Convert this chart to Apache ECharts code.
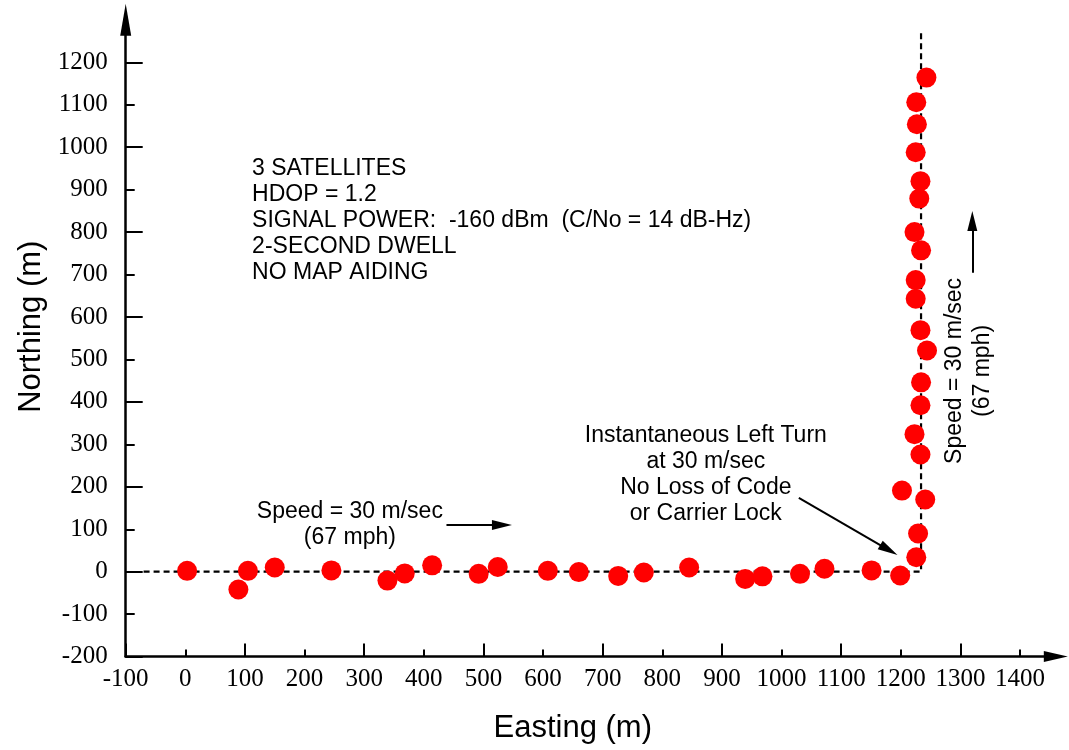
<!DOCTYPE html>
<html>
<head>
<meta charset="utf-8">
<script src="https://cdn.jsdelivr.net/npm/echarts@6/dist/echarts.min.js"></script>
<style>html,body{margin:0;padding:0;background:#fff}#c{width:1069px;height:750px}</style>
</head>
<body>
<div id="c"></div>
<script>
// ---- data ----
const eastingH  = [3, 89, 105, 150, 245, 339, 368, 414, 492, 524, 608, 660, 726, 769, 845, 939, 968, 1031, 1072, 1151, 1199];
const northingH = [2, -42, 2, 10, 3, -21, -4, 15, -5, 11, 2, -1, -10, -2, 10, -17, -11, -5, 7, 3, -9];
const eastingV  = [1226, 1229, 1202, 1241, 1233, 1223, 1233, 1234, 1244, 1233, 1225, 1225, 1234, 1223, 1231, 1233, 1225, 1227, 1226, 1243];
const northingV = [34, 90, 191, 170, 276, 324, 392, 446, 521, 569, 643, 687, 757, 800, 879, 920, 988, 1054, 1106, 1164];
const pathEasting  = [-70, 1234, 1234];
const pathNorthing = [0, 0, 1276];
const xLabelTicks = [-100, 0, 100, 200, 300, 400, 500, 600, 700, 800, 900, 1000, 1100, 1200, 1300, 1400];
const xShortTicks = [0, 200, 400, 600, 800, 1000, 1200, 1400];
const xLongTicks  = [-100, 100, 300, 500, 700, 900, 1100, 1300];
const yLabelTicks = [-200, -100, 0, 100, 200, 300, 400, 500, 600, 700, 800, 900, 1000, 1100, 1200];
const yShortTicks = [-100, 100, 300, 500, 700, 900, 1100];
const yLongTicks  = [-200, 0, 200, 400, 600, 800, 1000, 1200];
const infoLines = ['3 SATELLITES', 'HDOP = 1.2', 'SIGNAL POWER:  -160 dBm  (C/No = 14 dB-Hz)', '2-SECOND DWELL', 'NO MAP AIDING'];
const speedLines = ['Speed = 30 m/sec', '(67 mph)'];
const turnLines = ['Instantaneous Left Turn', 'at 30 m/sec', 'No Loss of Code', 'or Carrier Lock'];
// annotation anchors in data coordinates
const infoAt = [112, 981];
const speedAtH = [276, 110];
const turnAt = [873, 229];
const speedAtV = [1314, 473];
const arrowSpeedH = [[438, 110], [531, 110]];
const arrowTurn = [[1029, 174], [1180, 51]];
const arrowSpeedV = [[1320, 704], [1320, 826]];

const serif = 'Liberation Serif, Times New Roman, serif';
const sans = 'Liberation Sans, Arial, Helvetica, sans-serif';
const XMIN = -100, XMAX = 1460, YMIN = -200, YMAX = 1300;

const chart = echarts.init(document.getElementById('c'), null, {renderer: 'canvas'});

function zip(a, b) { return a.map((v, i) => [v, b[i]]); }
const plain = v => String(v);

const option = {
  animation: false,
  backgroundColor: '#fff',
  grid: {left: 125.7, right: 13.2, top: 19.85, bottom: 93.4, containLabel: false},
  xAxis: [
    {
      type: 'value', min: XMIN, max: XMAX, position: 'bottom',
      name: 'Easting (m)', nameLocation: 'middle', nameGap: 56,
      nameTextStyle: {fontFamily: sans, fontSize: 31, color: '#000', padding: [0, 36, 0, 0]},
      axisLine: {show: true, onZero: false, symbol: ['none', 'triangle'], symbolSize: [11, 24],
        lineStyle: {color: '#000', width: 2.5}},
      axisTick: {show: true, inside: true, length: 7, lineStyle: {color: '#000', width: 2}, customValues: xShortTicks},
      axisLabel: {show: true, margin: 10, fontFamily: serif, fontSize: 25, color: '#000', formatter: plain, customValues: xLabelTicks},
      splitLine: {show: false}
    },
    {
      type: 'value', min: XMIN, max: XMAX, position: 'bottom',
      axisLine: {show: false, onZero: false},
      axisTick: {show: true, inside: true, length: 13, lineStyle: {color: '#000', width: 2}, customValues: xLongTicks},
      axisLabel: {show: false},
      splitLine: {show: false}
    }
  ],
  yAxis: [
    {
      type: 'value', min: YMIN, max: YMAX, position: 'left',
      name: 'Northing (m)', nameLocation: 'middle', nameGap: 76, nameRotate: 90,
      nameTextStyle: {fontFamily: sans, fontSize: 31, color: '#000', padding: [0, 0, 0, 23]},
      axisLine: {show: true, onZero: false, symbol: ['none', 'triangle'], symbolSize: [11, 32],
        lineStyle: {color: '#000', width: 2.5}},
      axisTick: {show: true, inside: true, length: 9, lineStyle: {color: '#000', width: 2}, customValues: yShortTicks},
      axisLabel: {show: true, margin: 18, fontFamily: serif, fontSize: 25, color: '#000', formatter: plain, customValues: yLabelTicks},
      splitLine: {show: false}
    },
    {
      type: 'value', min: YMIN, max: YMAX, position: 'left',
      axisLine: {show: false, onZero: false},
      axisTick: {show: true, inside: true, length: 17, lineStyle: {color: '#000', width: 2}, customValues: yLongTicks},
      axisLabel: {show: false},
      splitLine: {show: false}
    }
  ],
  series: [
    {
      type: 'line', name: 'true path', xAxisIndex: 0, yAxisIndex: 0,
      data: zip(pathEasting, pathNorthing), showSymbol: false, symbol: 'none',
      lineStyle: {color: '#000', width: 2.2, type: [6, 4]}, z: 2, silent: true,
      markLine: {
        silent: true, animation: false,
        symbol: ['none', 'triangle'], symbolSize: [10, 20],
        label: {show: false},
        lineStyle: {color: '#000', width: 2, type: 'solid'},
        data: [
          [{coord: arrowSpeedH[0]}, {coord: arrowSpeedH[1]}],
          [{coord: arrowTurn[0]}, {coord: arrowTurn[1]}],
          [{coord: arrowSpeedV[0]}, {coord: arrowSpeedV[1]}]
        ]
      }
    },
    {
      type: 'scatter', name: 'east leg', xAxisIndex: 0, yAxisIndex: 0,
      data: zip(eastingH, northingH), symbolSize: 20, itemStyle: {color: '#ff0000', opacity: 1}, z: 3
    },
    {
      type: 'scatter', name: 'north leg', xAxisIndex: 0, yAxisIndex: 0,
      data: zip(eastingV, northingV), symbolSize: 20, itemStyle: {color: '#ff0000', opacity: 1}, z: 3
    }
  ]
};
chart.setOption(option);

function px(pt) { return chart.convertToPixel({gridIndex: 0}, pt); }
const tfont = 'normal 23px ' + sans;
const p1 = px(infoAt), p2 = px(speedAtH), p3 = px(turnAt), p4 = px(speedAtV);
chart.setOption({
  graphic: [
    {type: 'text', x: p1[0], y: p1[1], z: 10, style: {text: infoLines.join('\n'), font: tfont, fill: '#000', lineHeight: 26, align: 'left', verticalAlign: 'top'}},
    {type: 'text', x: p2[0], y: p2[1], z: 10, style: {text: speedLines.join('\n'), font: tfont, fill: '#000', lineHeight: 26, align: 'center', verticalAlign: 'middle'}},
    {type: 'text', x: p3[0], y: p3[1], z: 10, style: {text: turnLines.join('\n'), font: tfont, fill: '#000', lineHeight: 26, align: 'center', verticalAlign: 'middle'}},
    {type: 'text', x: p4[0], y: p4[1], rotation: Math.PI / 2, z: 10, style: {text: speedLines.join('\n'), font: tfont, fill: '#000', lineHeight: 28, align: 'center', verticalAlign: 'middle'}}
  ]
});
</script>
</body>
</html>
